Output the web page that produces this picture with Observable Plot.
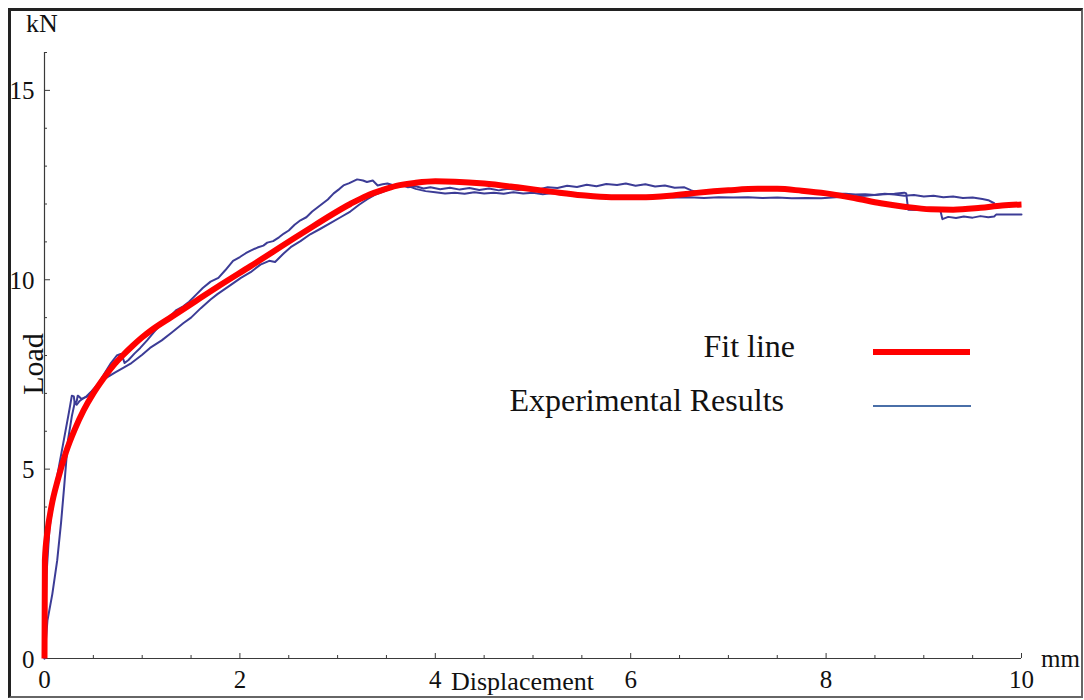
<!DOCTYPE html>
<html><head><meta charset="utf-8">
<script src="https://cdn.jsdelivr.net/npm/d3@7"></script>
<script src="https://cdn.jsdelivr.net/npm/@observablehq/plot@0.6"></script>
<style>
html,body{margin:0;padding:0;background:#fff;}
#wrap{position:relative;width:1084px;height:700px;overflow:hidden;font-family:"Liberation Serif","Times New Roman",serif;}
#chart{position:absolute;left:0;top:0;}
#overlay{position:absolute;left:0;top:0;}
#frame{position:absolute;left:8px;top:8px;width:1075px;height:690px;box-sizing:border-box;border-left:3px solid #222;border-top:3px solid #222;border-right:2px solid #666;border-bottom:2px solid #666;pointer-events:none;}
#overlay text{font-family:"Liberation Serif","Times New Roman",serif;fill:#111;}
</style></head><body>
<div id="wrap">
  <div id="chart"></div>
  <svg id="overlay" width="1084" height="700">
    <text x="26" y="32" font-size="26" font-family="Liberation Serif">kN</text>
    <text x="1041" y="667" font-size="25">mm</text>
    <text x="451" y="690" font-size="26">Displacement</text>
    <text transform="translate(43,364) rotate(-90)" text-anchor="middle" font-size="30">Load</text>
    <text x="795" y="357" text-anchor="end" font-size="32">Fit line</text>
    <text x="784" y="411" text-anchor="end" font-size="32">Experimental Results</text>
    <line x1="873" x2="970" y1="352" y2="352" stroke="#ff0000" stroke-width="6"/>
    <line x1="873" x2="971" y1="406" y2="406" stroke="#4a6fa8" stroke-width="2"/>
  </svg>
  <div id="frame"></div>
</div>
<script>
// Tick values
const xMajor = [0, 2, 4, 6, 8, 10];
const xMinor = [0.5, 1, 1.5, 2.5, 3, 3.5, 4.5, 5, 5.5, 6.5, 7, 7.5, 8.5, 9, 9.5];
const yMajor = [0, 5, 10, 15];
const yMinor = [1, 2, 3, 4, 6, 7, 8, 9, 11, 12, 13, 14, 16];

// Fit line (displacement mm, load kN)
const fitLine = [
  [0,0],[0.004,2.6],[0.03,3.35],[0.07,4.0],[0.14,4.75],[0.22,5.45],[0.31,6.05],[0.4,6.55],
  [0.5,7.0],[0.6,7.38],[0.7,7.72],[0.8,8.0],[0.9,8.25],[1.0,8.48],[1.1,8.68],[1.3,9.02],
  [1.55,9.44],[1.8,9.86],[2.11,10.36],[2.62,11.2],[3.13,12.0],[3.3,12.22],
  [3.47,12.38],[3.6,12.48],[3.8,12.56],[4.0,12.6],[4.2,12.59],[4.5,12.54],[4.84,12.44],
  [5.2,12.32],[5.5,12.23],[5.8,12.18],[6.1,12.18],[6.4,12.22],[6.7,12.3],[7.0,12.36],
  [7.3,12.4],[7.5,12.4],[7.75,12.35],[8.0,12.28],[8.3,12.15],[8.56,12.02],[8.8,11.93],
  [9.07,11.86],[9.3,11.85],[9.58,11.9],[9.8,11.96],[10,11.99]
];

// Experimental specimen 1
const expA = [
  [0,0],[0.01,1.0],[0.02,2.2],[0.05,3.4],[0.1,4.4],[0.15,5.1],[0.2,5.8],[0.25,6.5],[0.28,6.94],
  [0.3,6.92],[0.31,6.72],[0.33,6.8],[0.34,6.94],[0.36,6.9],[0.38,6.85],[0.42,6.9],[0.48,7.05],
  [0.55,7.25],[0.62,7.55],[0.68,7.8],[0.74,8.0],[0.78,8.04],[0.8,7.95],[0.82,7.8],[0.86,7.88],
  [0.92,8.05],[0.98,8.2],[1.05,8.4],[1.12,8.62],[1.2,8.85],[1.28,9.02],[1.35,9.2],[1.42,9.3],
  [1.48,9.42],[1.55,9.6],[1.62,9.78],[1.7,9.95],[1.78,10.05],[1.85,10.25],[1.93,10.5],[2.0,10.6],
  [2.06,10.7],[2.11,10.77],[2.18,10.85],[2.24,10.9],[2.28,10.98],[2.34,11.02],[2.4,11.12],
  [2.45,11.22],[2.5,11.3],[2.56,11.45],[2.62,11.57],[2.68,11.65],[2.74,11.8],[2.79,11.9],
  [2.85,12.02],[2.9,12.12],[2.96,12.28],[3.02,12.4],[3.06,12.49],[3.12,12.55],[3.2,12.65],
  [3.26,12.62],[3.3,12.58],[3.36,12.62],[3.41,12.49],[3.46,12.52],[3.51,12.54],[3.56,12.5],
  [3.6,12.48],[3.66,12.5],[3.72,12.44],[3.8,12.47],[3.88,12.41],[3.95,12.44],[4.05,12.39],
  [4.15,12.43],[4.25,12.38],[4.35,12.42],[4.45,12.37],[4.55,12.41],[4.65,12.36],[4.75,12.4],
  [4.85,12.37],[4.95,12.41],[5.05,12.38],[5.15,12.44],[5.25,12.42],[5.35,12.48],[5.45,12.45],
  [5.55,12.51],[5.65,12.47],[5.75,12.53],[5.86,12.5],[5.95,12.54],[6.05,12.48],[6.15,12.52],
  [6.25,12.46],[6.35,12.49],[6.45,12.43],[6.55,12.44],[6.62,12.36],[6.7,12.3],[6.8,12.33],
  [6.9,12.35],[7.0,12.37],[7.1,12.36],[7.2,12.4],[7.3,12.41],[7.4,12.39],[7.5,12.42],[7.6,12.4],
  [7.7,12.38],[7.8,12.35],[7.9,12.33],[8.0,12.3],[8.1,12.28],[8.2,12.27],[8.3,12.25],[8.4,12.26],
  [8.5,12.24],[8.6,12.27],[8.7,12.25],[8.8,12.22],[8.9,12.24],[9.0,12.2],[9.1,12.22],[9.2,12.18],
  [9.3,12.2],[9.4,12.16],[9.5,12.17],[9.6,12.13],[9.66,12.1],[9.72,12.02]
];

// Experimental specimen 2
const expB = [
  [0,0],[0.03,1.0],[0.08,1.7],[0.13,2.59],[0.17,3.6],[0.2,4.5],[0.24,5.76],[0.28,6.4],[0.31,6.76],
  [0.33,6.7],[0.36,6.8],[0.4,6.88],[0.44,6.92],[0.5,7.1],[0.57,7.3],[0.64,7.42],[0.72,7.55],
  [0.81,7.68],[0.89,7.8],[1.0,8.02],[1.08,8.2],[1.2,8.4],[1.3,8.6],[1.42,8.85],[1.5,9.0],
  [1.6,9.25],[1.7,9.48],[1.77,9.62],[1.9,9.85],[2.01,10.05],[2.11,10.2],[2.21,10.4],[2.3,10.5],
  [2.36,10.47],[2.45,10.7],[2.52,10.86],[2.62,11.02],[2.72,11.2],[2.82,11.34],[2.93,11.5],
  [3.03,11.65],[3.13,11.8],[3.22,11.98],[3.3,12.12],[3.38,12.24],[3.47,12.33],[3.6,12.46],
  [3.7,12.5],[3.8,12.4],[3.9,12.34],[4.0,12.31],[4.1,12.28],[4.2,12.3],[4.3,12.27],[4.4,12.31],
  [4.5,12.28],[4.6,12.3],[4.7,12.27],[4.8,12.31],[4.9,12.28],[5.0,12.3],[5.1,12.26],[5.2,12.29],
  [5.3,12.25],[5.4,12.26],[5.5,12.22],[5.6,12.24],[5.7,12.2],[5.8,12.21],[5.9,12.19],[6.0,12.2],
  [6.15,12.18],[6.3,12.19],[6.45,12.17],[6.6,12.18],[6.75,12.16],[6.9,12.18],[7.05,12.17],
  [7.2,12.18],[7.35,12.16],[7.5,12.17],[7.65,12.15],[7.8,12.16],[7.95,12.15],[8.1,12.18],
  [8.25,12.2],[8.4,12.22],[8.55,12.25],[8.7,12.27],[8.8,12.3],[8.82,12.28],[8.84,11.85],
  [8.95,11.84],[9.05,11.86],[9.15,11.82],[9.17,11.83],[9.19,11.6],[9.25,11.66],[9.33,11.63],
  [9.41,11.67],[9.5,11.64],[9.58,11.68],[9.66,11.65],[9.72,11.67],[9.74,11.72],[9.85,11.72],
  [10.0,11.72]
];

const toObj = arr => arr.map(([x, y]) => ({x, y}));
const axisColor = "#3a3a3a";

const chart = Plot.plot({
  width: 1084,
  height: 700,
  marginLeft: 44,
  marginRight: 63,
  marginTop: 52,
  marginBottom: 42,
  x: {domain: [0, 10], label: null},
  y: {domain: [0, 16], label: null},
  style: {fontFamily: "'Liberation Serif', 'Times New Roman', serif", fontSize: "25px", color: "#111", background: "transparent"},
  marks: [
    Plot.ruleY([0], {stroke: axisColor, strokeWidth: 1.2}),
    Plot.ruleX([0], {stroke: axisColor, strokeWidth: 1.2}),
    Plot.axisX(xMinor, {tickSize: 3, dy: -3, text: null, stroke: axisColor, label: null}),
    Plot.axisX(xMajor, {tickSize: 5, dy: -5, text: null, stroke: axisColor, label: null}),
    Plot.axisX(xMajor, {tickSize: 0, tickPadding: 12, fontSize: 25, fill: "#111", label: null}),
    Plot.axisY(yMinor, {tickSize: 3, dx: 3, text: null, stroke: axisColor, label: null}),
    Plot.axisY(yMajor, {tickSize: 6, dx: 6, text: null, stroke: axisColor, label: null}),
    Plot.axisY(yMajor, {tickSize: 0, tickPadding: 10, dy: 1, fontSize: 25, fill: "#111", label: null}),
    Plot.line(toObj(expA), {x: "x", y: "y", stroke: "#3c3c96", strokeWidth: 2}),
    Plot.line(toObj(expB), {x: "x", y: "y", stroke: "#3c3c96", strokeWidth: 2}),
    Plot.line(toObj(fitLine), {x: "x", y: "y", stroke: "#ff0000", strokeWidth: 6, curve: "monotone-x", strokeLinecap: "butt"})
  ]
});
document.getElementById("chart").appendChild(chart);
</script>
</body></html>
